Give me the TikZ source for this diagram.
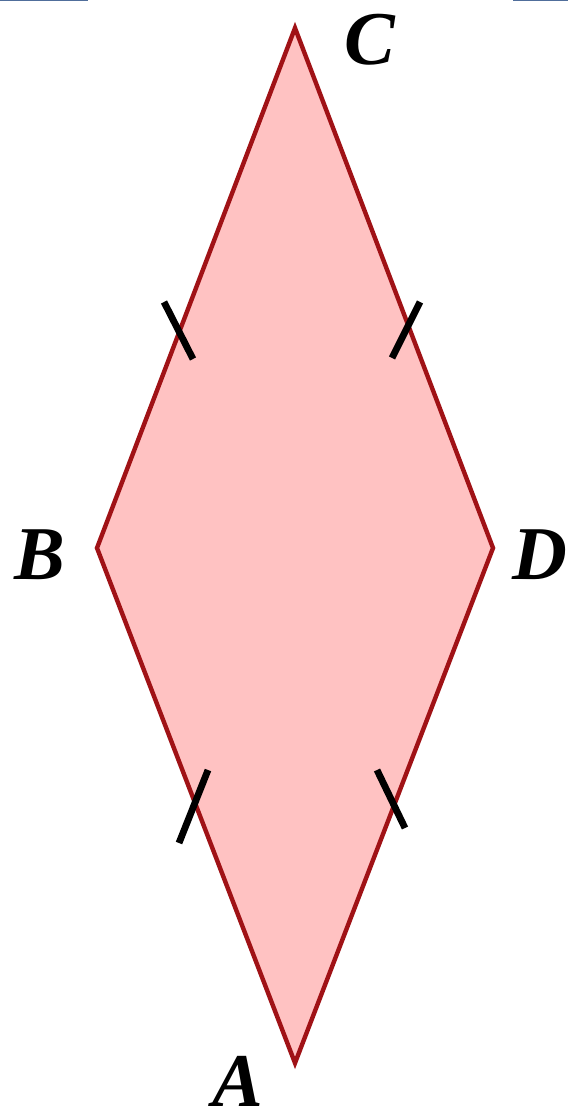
\documentclass[tikz,border=0pt]{standalone}
\usepackage{fontspec}
\setmainfont{Liberation Serif}
\begin{document}
\begin{tikzpicture}[x=0.5pt,y=-0.5pt,
  edge/.style={draw=edgered,line width=2.2pt,line join=miter},
  tick/.style={draw=black,line width=3.4pt},
  lab/.style={font=\fontsize{38}{40}\selectfont\bfseries\itshape,inner sep=0pt},
  topline/.style={draw=topblue,line width=1pt}]
\definecolor{edgered}{RGB}{160,18,22}
\definecolor{fillpink}{RGB}{255,194,194}
\definecolor{topblue}{RGB}{80,110,155}
\useasboundingbox (0,0) rectangle (568,1112);
\coordinate (C) at (295,28);
\coordinate (B) at (97,548);
\coordinate (D) at (493,548);
\coordinate (A) at (295,1063);
\fill[fillpink] (C) -- (D) -- (A) -- (B) -- cycle;
\draw[edge] (C) -- (D) -- (A) -- (B) -- cycle;
\coordinate (t1a) at (164,302); \coordinate (t1b) at (193,359);
\coordinate (t2a) at (420,302); \coordinate (t2b) at (392,358);
\coordinate (t3a) at (208,770); \coordinate (t3b) at (179,843);
\coordinate (t4a) at (377,770); \coordinate (t4b) at (405,828);
\draw[tick] (t1a) -- (t1b);
\draw[tick] (t2a) -- (t2b);
\draw[tick] (t3a) -- (t3b);
\draw[tick] (t4a) -- (t4b);
\node[lab] (lC) at (370,40) {C};
\node[lab] (lB) at (40,555) {B};
\node[lab] (lD) at (540,555) {D};
\node[lab] (lA) at (238,1081) {A};
\coordinate (bl1) at (0,0.5); \coordinate (bl2) at (88,0.5);
\coordinate (br1) at (513,0.5); \coordinate (br2) at (568,0.5);
\draw[topline] (bl1) -- (bl2);
\draw[topline] (br1) -- (br2);
\end{tikzpicture}
\end{document}
